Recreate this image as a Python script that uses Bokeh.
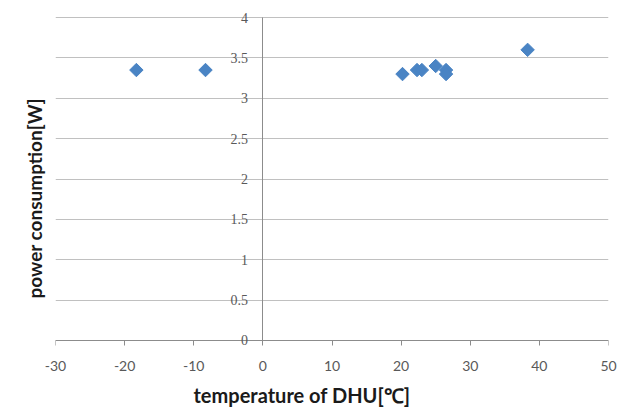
from bokeh.plotting import figure
from bokeh.models import LinearAxis, Range1d, FixedTicker, ColumnDataSource, LabelSet, Title
from bokeh.embed import file_html
from bokeh.resources import INLINE
import numpy as np

# data
temperature = [-18.3, -8.3, 20.2, 22.3, 23.0, 25.0, 26.5, 26.5, 38.3]
power = [3.35, 3.35, 3.30, 3.35, 3.35, 3.40, 3.35, 3.30, 3.60]
x_ticks = [-30, -20, -10, 0, 10, 20, 30, 40, 50]
x_tick_labels = ["-30", "-20", "-10", "0", "10", "20", "30", "40", "50"]
y_ticks = [0, 0.5, 1, 1.5, 2, 2.5, 3, 3.5, 4]
y_tick_labels = ["0", "0.5", "1", "1.5", "2", "2.5", "3", "3.5", "4"]
x_title = "temperature of DHU[℃]"
y_title = "power consumption[W]"

FONT = "Lato"
LABEL_COLOR = "#595959"
GRID_COLOR = "#c0c0c0"
AXIS_COLOR = "#8c8c8c"
TITLE_COLOR = "#1a1a1a"

src = ColumnDataSource(data=dict(x=temperature, y=power))
ytick_src = ColumnDataSource(data=dict(x=[0] * len(y_ticks), y=y_ticks, t=y_tick_labels))

# the frame is slightly taller than 0..4 so that the y tick texts at x = 0 are not clipped
p = figure(width=625, height=419, output_backend="svg", toolbar_location=None,
           x_range=Range1d(-30, 50), y_range=Range1d(-0.1, 4.1),
           min_border_left=55, min_border_right=17, min_border_top=9, min_border_bottom=71)
p.outline_line_color = None
p.background_fill_color = "white"
p.border_fill_color = "white"

# bottom axis: only the tick labels
xa = p.xaxis[0]
xa.ticker = FixedTicker(ticks=x_ticks)
xa.major_label_overrides = dict(zip(x_ticks, x_tick_labels))
xa.axis_line_color = None
xa.major_tick_line_color = None
xa.major_tick_in = 0
xa.major_tick_out = 0
xa.minor_tick_line_color = None
xa.major_label_text_font = FONT
xa.major_label_text_font_size = "14px"
xa.major_label_text_color = LABEL_COLOR
xa.major_label_standoff = 12

# horizontal axis line with its ticks, crossing at y = 0 (no texts of its own)
xa0 = LinearAxis(fixed_location=0, ticker=FixedTicker(ticks=x_ticks))
xa0.axis_line_color = AXIS_COLOR
xa0.major_tick_line_color = AXIS_COLOR
xa0.major_tick_in = 0
xa0.major_tick_out = 5
xa0.minor_tick_line_color = None
xa0.major_label_text_color = None
xa0.major_label_text_alpha = 0
p.add_layout(xa0, "below")

# hide the default left axis; the vertical axis line crosses at x = 0
p.yaxis[0].visible = False
ya0 = LinearAxis(fixed_location=0, ticker=FixedTicker(ticks=[]), bounds=(0, 4))
ya0.axis_line_color = AXIS_COLOR
ya0.major_tick_line_color = None
ya0.minor_tick_line_color = None
ya0.major_label_text_color = None
ya0.major_label_text_alpha = 0
p.add_layout(ya0, "left")

# y tick labels next to the crossing axis
p.add_layout(LabelSet(x="x", y="y", text="t", source=ytick_src, x_offset=-15,
                      text_align="right", text_baseline="middle",
                      text_font=FONT, text_font_size="14px", text_color=LABEL_COLOR))

# axis titles
p.add_layout(Title(text=x_title, align="left", offset=138, vertical_align="top", standoff=18,
                   text_font=FONT, text_font_size="20px", text_font_style="bold",
                   text_color=TITLE_COLOR), "below")
p.add_layout(Title(text=y_title, align="left", offset=50, vertical_align="bottom", standoff=20,
                   text_font=FONT, text_font_size="19px", text_font_style="bold",
                   text_color=TITLE_COLOR), "left")

p.xgrid.grid_line_color = None
p.ygrid.ticker = FixedTicker(ticks=y_ticks)
p.ygrid.grid_line_color = GRID_COLOR
p.ygrid.grid_line_width = 1

p.scatter("x", "y", source=src, marker="square", angle=np.pi / 4, size=9.5,
          fill_color="#4a84c4", line_color="#4a84c4")

open("out.html", "w").write(file_html(p, INLINE))
